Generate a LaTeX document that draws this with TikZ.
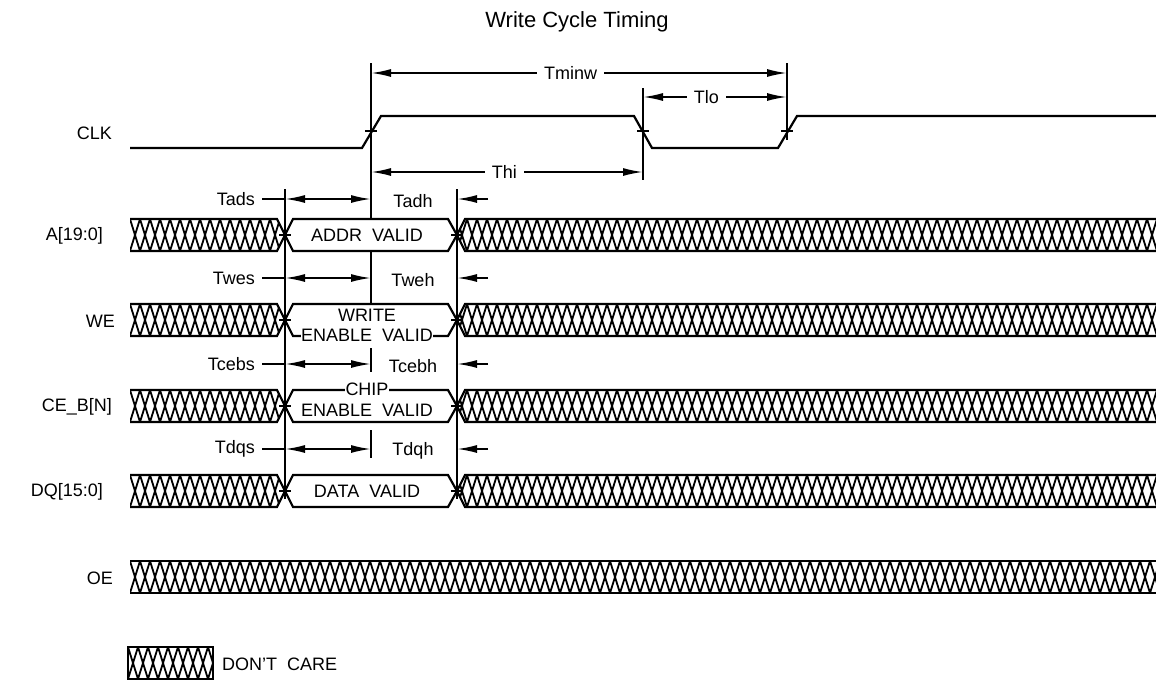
\documentclass[tikz,border=0pt]{standalone}
\usepackage{fontspec}
\setmainfont{Liberation Sans}
\usetikzlibrary{arrows.meta}

\tikzset{
  sig/.style={line width=2.2pt, line join=miter},
  ext/.style={line width=2pt},
  dim/.style={line width=1.8pt},
  both/.style={{Latex[length=20pt,width=8pt]}-{Latex[length=20pt,width=8pt]}},
  hold/.style={-{Latex[length=20pt,width=8pt]}},
  hatch/.style={line width=1.8pt},
  dontcare/.style={path picture={
      \foreach \i in {-1,...,105}
        \draw[hatch] ([xshift=\i*10pt]path picture bounding box.north west) -- ++(10,32)
                     ([xshift=\i*10pt+10pt]path picture bounding box.north west) -- ++(-10,32);
    }},
  signame/.style={anchor=east, inner sep=0pt},
  tlabel/.style={fill=white, inner xsep=7pt, inner ysep=1pt},
  boxtext/.style={inner sep=0.5pt},
  every node/.style={font=\fontsize{18}{20}\selectfont}
}

\begin{document}
\begin{tikzpicture}[x=1pt,y=-1pt]
\useasboundingbox (0,0) rectangle (1156,681);

\node[font=\fontsize{22}{24}\selectfont] (title) at (577,22) {Write Cycle Timing};

% signal names
\node[signame] (clk) at (112,133) {CLK};
\node[signame] (addr) at (103,236) {A[19:0]};
\node[signame] (we) at (115,321) {WE};
\node[signame] (ce) at (112,407) {CE\_B[N]};
\node[signame] (dq) at (103,492) {DQ[15:0]};
\node[signame] (oe) at (113,578) {OE};

% clock
\draw[sig] (130,148) -- (362,148) -- (381,116) -- (634,116) -- (652,148) -- (778,148) -- (797,116) -- (1156,116);
\draw[sig] (365,131) -- (377,131) (637,131) -- (649,131) (781,131) -- (793,131);

% address, we, ce, data
\foreach \y in {235,320,406,491} {
  \path[dontcare] (130,\y-16) -- (277,\y-16) -- (285,\y) -- (277,\y+16) -- (130,\y+16) -- cycle;
  \path[dontcare] (1156,\y-16) -- (465,\y-16) -- (457,\y) -- (465,\y+16) -- (1156,\y+16) -- cycle;
  \draw[sig] (130,\y-16) -- (277,\y-16) -- (285,\y) -- (277,\y+16) -- (130,\y+16);
  \draw[sig] (1156,\y-16) -- (465,\y-16) -- (457,\y) -- (465,\y+16) -- (1156,\y+16);
  \draw[sig] (285,\y) -- (293,\y-16) -- (448,\y-16) -- (457,\y) -- (448,\y+16) -- (293,\y+16) -- cycle;
  \draw[sig] (279,\y) -- (291,\y) (451,\y) -- (463,\y);
}

% output enable
\path[dontcare] (130,561) rectangle (1156,593);
\draw[sig] (130,561) -- (1156,561) (130,593) -- (1156,593);

% texts in the valid boxes
\node[boxtext] (addrv) at (367,235) {ADDR\ \ VALID};
\node[boxtext, fill=white] (wev1) at (367,315) {WRITE};
\node[boxtext, fill=white] (wev2) at (367,335) {ENABLE\ \ VALID};
\node[boxtext, fill=white] (cev1) at (367,389) {CHIP};
\node[boxtext, fill=white] (cev2) at (367,410) {ENABLE\ \ VALID};
\node[boxtext] (dqv) at (367,491) {DATA\ \ VALID};

% extension lines
\draw[ext] (371,63) -- (371,218) (371,252) -- (371,304) (371,348) -- (371,372) (371,430) -- (371,458);
\draw[ext] (285,189) -- (285,499) (457,189) -- (457,499);
\draw[ext] (643,88) -- (643,180) (787,63) -- (787,140);

% clock timing
\draw[dim,both] (371,73) -- node[tlabel, pos=0.48] (tminw) {Tminw} (787,73);
\draw[dim,both] (643,97) -- node[tlabel, pos=0.44] (tlo) {Tlo} (787,97);
\draw[dim,both] (371,172) -- node[tlabel, pos=0.49] (thi) {Thi} (643,172);

% setup and hold
\foreach \y/\s/\h in {199/Tads/Tadh, 278/Twes/Tweh, 364/Tcebs/Tcebh, 449/Tdqs/Tdqh} {
  \node[signame] (s\s) at (255,\y) {\s};
  \node (h\h) at (413,\y+2) {\h};
  \draw[dim] ([xshift=7pt]s\s.east) -- (285,\y);
  \draw[dim,both] (285,\y) -- (371,\y);
  \draw[dim,hold] (488,\y) -- (457,\y);
}

% legend
\path[dontcare] (128,647) rectangle (213,679);
\draw[sig] (128,647) rectangle (213,679);
\node[anchor=west, inner sep=0pt] (dc) at (222,664) {DON'T\ \ CARE};
\end{tikzpicture}
\end{document}
